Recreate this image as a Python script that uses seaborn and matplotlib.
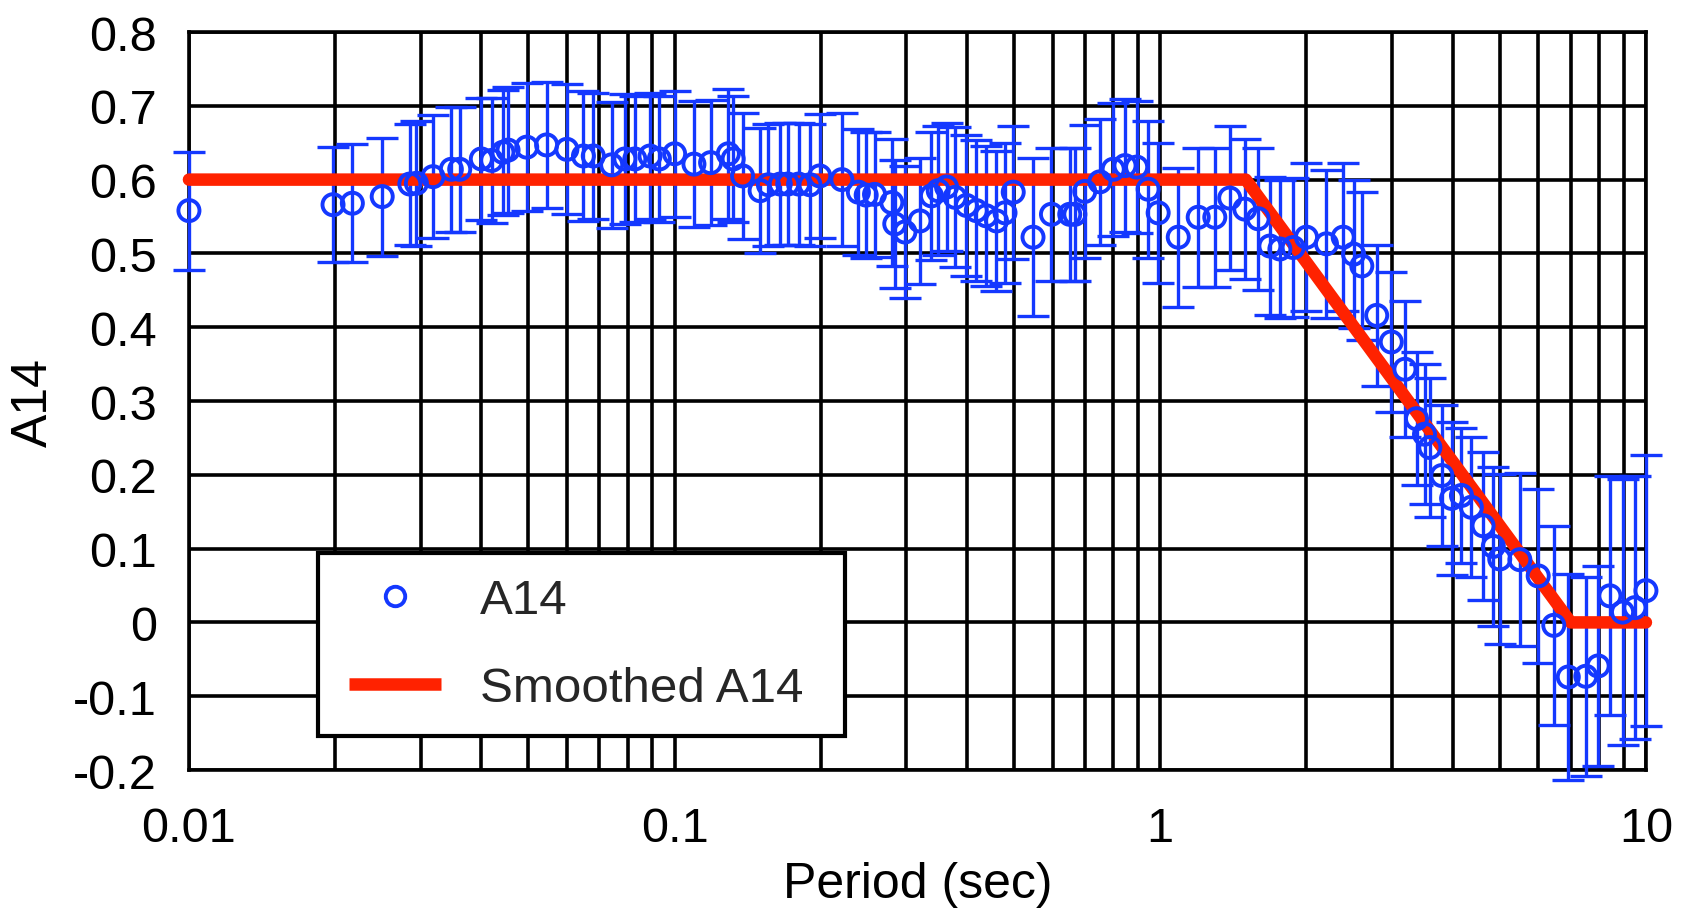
import numpy as np
import pandas as pd
import matplotlib
matplotlib.use("Agg")
import matplotlib.pyplot as plt
import seaborn as sns
from matplotlib.ticker import FixedLocator, MultipleLocator, NullFormatter, FuncFormatter
from matplotlib.lines import Line2D
from matplotlib.legend_handler import HandlerLine2D

sns.set_theme(style="white")
plt.rcParams['font.family'] = ['Liberation Sans', 'DejaVu Sans']
plt.rcParams['axes.unicode_minus'] = False

# ---- data ----
period = [0.0100, 0.0198, 0.0217, 0.0250, 0.0285, 0.0294, 0.0318, 0.0347, 0.0361, 0.0400,
          0.0420, 0.0443, 0.0454, 0.0496, 0.0545, 0.0600, 0.0649, 0.0680, 0.0742, 0.0790,
          0.0828, 0.0890, 0.0930, 0.1000, 0.1096, 0.1186, 0.1290, 0.1320, 0.1380, 0.1500,
          0.1560, 0.1650, 0.1710, 0.1800, 0.1900, 0.1990, 0.2210, 0.2390, 0.2480, 0.2580,
          0.2800, 0.2840, 0.2980, 0.3200, 0.3380, 0.3490, 0.3630, 0.3780, 0.3990, 0.4180,
          0.4380, 0.4600, 0.4790, 0.4980, 0.5470, 0.5970, 0.6510, 0.6670, 0.6990, 0.7510,
          0.8000, 0.8460, 0.8940, 0.9440, 0.9900, 1.0890, 1.1970, 1.2950, 1.3900, 1.4930,
          1.5900, 1.6820, 1.7630, 1.8780, 2.0000, 2.1990, 2.3800, 2.5000, 2.6000, 2.7900,
          2.9900, 3.1900, 3.3700, 3.5000, 3.5900, 3.8000, 3.9800, 4.1700, 4.3700, 4.6200,
          4.8500, 5.0000, 5.5000, 6.0000, 6.4600, 6.9200, 7.5200, 7.9700, 8.4300, 8.9500,
          9.4900, 10.000]
a14 = [0.558, 0.566, 0.568, 0.577, 0.594, 0.595, 0.604, 0.614, 0.614, 0.628,
       0.626, 0.637, 0.640, 0.644, 0.647, 0.641, 0.632, 0.632, 0.620, 0.628,
       0.628, 0.632, 0.628, 0.635, 0.621, 0.623, 0.635, 0.628, 0.605, 0.585,
       0.593, 0.594, 0.594, 0.594, 0.593, 0.605, 0.600, 0.583, 0.579, 0.580,
       0.569, 0.540, 0.529, 0.544, 0.578, 0.585, 0.590, 0.576, 0.565, 0.558,
       0.551, 0.544, 0.555, 0.583, 0.522, 0.553, 0.553, 0.553, 0.584, 0.597,
       0.614, 0.619, 0.617, 0.587, 0.555, 0.522, 0.549, 0.549, 0.575, 0.560,
       0.547, 0.510, 0.506, 0.508, 0.522, 0.513, 0.522, 0.499, 0.483, 0.416,
       0.380, 0.343, 0.276, 0.255, 0.237, 0.199, 0.168, 0.172, 0.156, 0.131,
       0.103, 0.086, 0.085, 0.063, -0.004, -0.074, -0.073, -0.059, 0.036, 0.014,
       0.020, 0.043]
a14_err = [0.080, 0.078, 0.080, 0.080, 0.082, 0.085, 0.083, 0.085, 0.085, 0.083,
           0.085, 0.085, 0.085, 0.087, 0.085, 0.088, 0.088, 0.085, 0.085, 0.088,
           0.085, 0.085, 0.085, 0.085, 0.085, 0.085, 0.088, 0.085, 0.085, 0.085,
           0.083, 0.083, 0.083, 0.083, 0.083, 0.084, 0.090, 0.085, 0.085, 0.085,
           0.086, 0.087, 0.089, 0.085, 0.087, 0.087, 0.087, 0.095, 0.095, 0.095,
           0.095, 0.095, 0.095, 0.090, 0.107, 0.090, 0.090, 0.090, 0.090, 0.085,
           0.090, 0.090, 0.090, 0.093, 0.095, 0.094, 0.094, 0.094, 0.097, 0.095,
           0.096, 0.094, 0.094, 0.094, 0.100, 0.100, 0.100, 0.100, 0.100, 0.095,
           0.095, 0.092, 0.090, 0.095, 0.094, 0.095, 0.104, 0.092, 0.095, 0.100,
           0.108, 0.115, 0.117, 0.118, 0.135, 0.140, 0.135, 0.135, 0.162, 0.180,
           0.178, 0.184]
smooth_period = [0.01, 1.5, 7.0, 10.0]
smooth_a14 = [0.6, 0.6, 0.0, 0.0]
y_ticks = [-0.2, -0.1, 0.0, 0.1, 0.2, 0.3, 0.4, 0.5, 0.6, 0.7, 0.8]
x_ticks = [0.01, 0.1, 1, 10]
x_tick_labels = ["0.01", "0.1", "1", "10"]

BLUE = "#1438FF"
RED = "#FF2200"

df = pd.DataFrame({"period": period, "a14": a14, "err": a14_err})
sm = pd.DataFrame({"period": smooth_period, "a14": smooth_a14})

fig = plt.figure(figsize=(16.84, 9.12), dpi=100)
ax = fig.add_axes([0.1122, 0.1546, 0.8652, 0.8092])
ax.set_xscale("log")

eb = ax.errorbar(df["period"], df["a14"], yerr=df["err"], fmt="none", ecolor=BLUE,
                 elinewidth=2.4, capsize=11.5, capthick=2.4, zorder=3)
for art in eb.get_children():
    art.set_clip_on(False)
sns.lineplot(data=sm, x="period", y="a14", color=RED, linewidth=9, ax=ax,
             zorder=4, legend=False, clip_on=False)
sns.scatterplot(data=df, x="period", y="a14", marker="o", s=230, facecolor="none",
                edgecolor=BLUE, linewidth=2.8, ax=ax, zorder=5, legend=False, clip_on=False)

ax.set_xlim(0.01, 10)
ax.set_ylim(-0.2, 0.8)

ax.xaxis.set_major_locator(FixedLocator(x_ticks))
ax.xaxis.set_major_formatter(FuncFormatter(lambda v, p: x_tick_labels[x_ticks.index(v)] if v in x_ticks else ""))
minors = [m * 10.0 ** e for e in (-2, -1, 0) for m in range(2, 10)]
ax.xaxis.set_minor_locator(FixedLocator(minors))
ax.xaxis.set_minor_formatter(NullFormatter())
ax.yaxis.set_major_locator(FixedLocator(y_ticks))
ax.yaxis.set_major_formatter(FuncFormatter(lambda v, p: f"{v:g}" if abs(v) > 1e-9 else "0"))
ax.yaxis.set_minor_locator(MultipleLocator(0.02))

ax.tick_params(axis="both", which="major", direction="out", length=19, width=2.6,
               color="black", labelsize=35, pad=4, labelcolor="black")
ax.tick_params(axis="x", which="minor", length=0)
ax.tick_params(axis="y", which="minor", direction="out", length=10, width=2.6, color="black")
ax.tick_params(axis="x", which="major", pad=7)

ax.grid(True, axis="x", which="both", color="black", linewidth=2.6)
ax.grid(True, axis="y", which="major", color="black", linewidth=2.6)
ax.set_axisbelow(True)
for s in ax.spines.values():
    s.set_color("black")
    s.set_linewidth(2.6)

ax.set_xlabel("Period (sec)", fontsize=36, color="black", labelpad=7)
ax.set_ylabel("A14", fontsize=36, color="black", labelpad=12)


class ShiftedHandler(HandlerLine2D):
    """Line handler drawn with a left offset inside the handle box."""
    def __init__(self, shift_px, **kw):
        super().__init__(**kw)
        self.shift_px = shift_px

    def create_artists(self, legend, orig_handle, xdescent, ydescent, width, height,
                       fontsize, trans):
        return super().create_artists(legend, orig_handle, xdescent - self.shift_px,
                                      ydescent, width - self.shift_px, height,
                                      fontsize, trans)


h_marker = Line2D([], [], marker="o", linestyle="none", markersize=14, markerfacecolor="none",
                  markeredgecolor=BLUE, markeredgewidth=2.8)
h_line = Line2D([], [], color=RED, linewidth=9, solid_capstyle="butt")
leg = ax.legend([h_marker, h_line], ["A14", "Smoothed A14"], loc="lower left",
                bbox_to_anchor=(0.0885, 0.046, 0.3617, 0.245), mode="expand",
                fontsize=35.5, frameon=True, fancybox=False,
                handlelength=2.0, handletextpad=0.78, borderpad=0.5, labelspacing=0.88,
                borderaxespad=0,
                handler_map={Line2D: ShiftedHandler(5)})
leg.get_frame().set_edgecolor("black")
leg.get_frame().set_linewidth(3)
leg.get_frame().set_facecolor("white")
leg.get_frame().set_alpha(1)
leg.set_zorder(10)

fig.savefig("out.png", dpi=100, facecolor="white")
